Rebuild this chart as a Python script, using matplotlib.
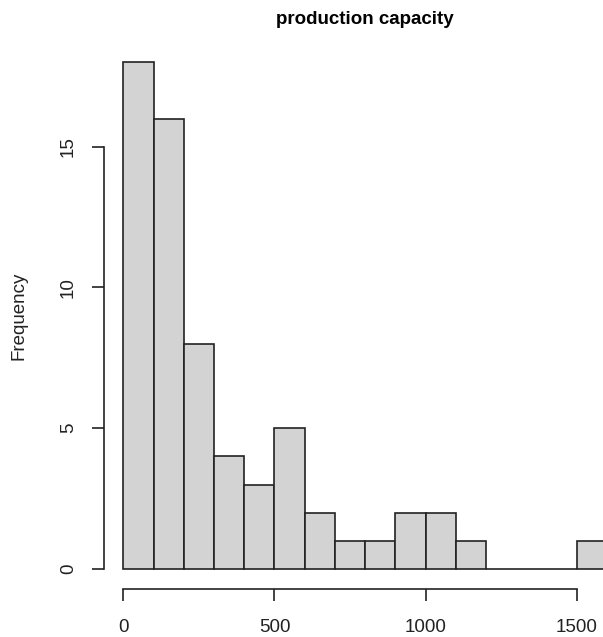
import matplotlib.pyplot as plt

# histogram of production capacity, bins of width 100
bin_edges = [0, 100, 200, 300, 400, 500, 600, 700, 800, 900, 1000,
             1100, 1200, 1300, 1400, 1500, 1600]
counts = [18, 16, 8, 4, 3, 5, 2, 1, 1, 2, 2, 1, 0, 0, 0, 1]
xticks = [0, 500, 1000, 1500]
yticks = [0, 5, 10, 15]

plt.rcParams['font.family'] = ['Liberation Sans', 'DejaVu Sans']

fig = plt.figure(figsize=(6.03, 6.37), dpi=100)
ax = fig.add_axes([0.1725, 0.0749, 0.8661, 0.8592])

lefts = bin_edges[:-1]
widths = [b - a for a, b in zip(bin_edges[:-1], bin_edges[1:])]
ax.bar(lefts, counts, width=widths, align='edge', color='#d3d3d3',
       edgecolor='#222222', linewidth=1.2)

xmax = bin_edges[-1]
ymax = max(counts)
ax.set_xlim(-0.04 * xmax, xmax * 1.04)
ax.set_ylim(-0.04 * ymax, ymax * 1.04)

for s in ['top', 'right']:
    ax.spines[s].set_visible(False)
ax.spines['left'].set_bounds(yticks[0], yticks[-1])
ax.spines['bottom'].set_bounds(xticks[0], xticks[-1])
for s in ['left', 'bottom']:
    ax.spines[s].set_linewidth(1.2)
    ax.spines[s].set_color('#222222')

ax.set_xticks(xticks)
ax.set_yticks(yticks)
ax.set_yticklabels([str(v) for v in yticks], rotation=90, va='center')
ax.tick_params(axis='both', length=8.6, width=1.2, color='#222222',
               labelsize=13.5, labelcolor='#222222')
ax.tick_params(axis='x', pad=12.5)
ax.tick_params(axis='y', pad=11)

ax.set_ylabel('Frequency', fontsize=13.5, color='#222222')
ax.yaxis.set_label_coords(-0.146, 0.5)
ax.set_title('production capacity', fontsize=13.5, fontweight='bold', pad=13)

fig.savefig('out.png', dpi=100)
